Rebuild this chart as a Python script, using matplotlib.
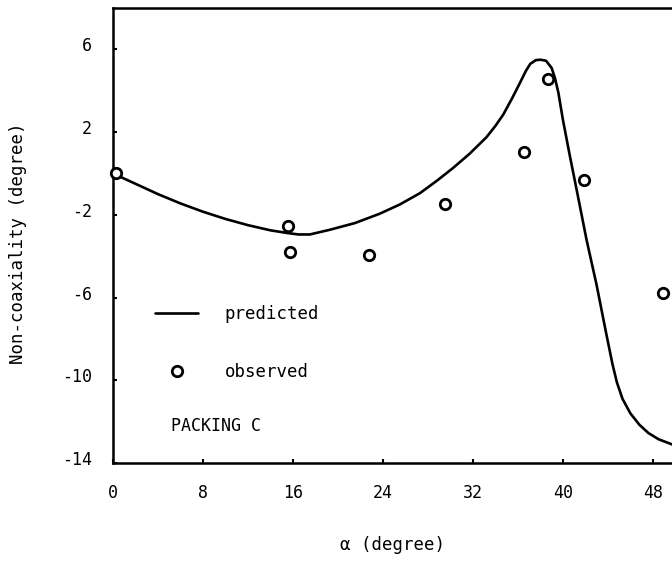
import matplotlib
matplotlib.use("Agg")
import matplotlib.pyplot as plt
import matplotlib.transforms as mtransforms
from matplotlib.legend_handler import HandlerLine2D

# predicted curve
pred_x = [0, 1, 2.4, 4, 6, 8, 10, 12, 14, 15.5, 16.5, 17.5, 19.3, 21.5, 23.7, 25.5,
          27.3, 28.8, 30.2, 31.7, 33.2, 34.0, 34.7, 35.5, 36.2, 36.7, 37.1, 37.6, 38.0,
          38.5, 39.0, 39.3, 39.6, 40.0, 40.6, 41.3, 42.1, 43.0, 43.8, 44.4, 44.8,
          45.3, 46.0, 46.8, 47.6, 48.5, 49.7]
pred_y = [0, -0.25, -0.6, -1.0, -1.45, -1.85, -2.2, -2.5, -2.75, -2.88, -2.95, -2.95,
          -2.72, -2.4, -1.95, -1.5, -0.95, -0.35, 0.25, 0.95, 1.75, 2.3, 2.85, 3.65,
          4.4, 4.95, 5.3, 5.48, 5.5, 5.45, 5.1, 4.6, 3.9, 2.6, 0.9, -1.0, -3.2, -5.4,
          -7.6, -9.2, -10.1, -10.9, -11.6, -12.15, -12.55, -12.85, -13.1]

# observed points
obs_x = [0.3, 15.6, 15.7, 22.8, 29.5, 36.5, 38.7, 41.9, 48.9]
obs_y = [0.0, -2.55, -3.8, -3.95, -1.5, 1.05, 4.55, -0.3, -5.8]

xticks = [0, 8, 16, 24, 32, 40, 48]
xticklabels = ["0", "8", "16", "24", "32", "40", "48"]
yticks = [6, 2, -2, -6, -10, -14]
yticklabels = ["6", "2", "-2", "-6", "-10", "-14"]

FONT = "DejaVu Sans Mono"
plt.rcParams["font.family"] = [FONT]


class LeftMarkerHandler(HandlerLine2D):
    def get_xdata(self, legend, xdescent, ydescent, width, height, fontsize):
        xd, xm = super().get_xdata(legend, xdescent, ydescent, width, height, fontsize)
        return xd, [0.35 * width - xdescent]


W, H = 672, 565
fig = plt.figure(figsize=(W / 100, H / 100), dpi=100)
left = 113 / W
bottom = 1 - 463 / H
top = 1 - 8 / H
ax = fig.add_axes([left, bottom, 1.0 - left, top - bottom])

line, = ax.plot(pred_x, pred_y, color="black", lw=1.9, solid_capstyle="round",
                solid_joinstyle="round", label="predicted")
pts, = ax.plot(obs_x, obs_y, linestyle="none", marker="o", ms=7.5, mew=2.0,
               mfc="white", mec="black", clip_on=False, label="observed", zorder=3)

ax.set_xlim(0, 49.7)
ax.set_ylim(-14, 8)

for s in ["left", "bottom", "top"]:
    ax.spines[s].set_linewidth(1.8)
ax.spines["right"].set_visible(False)

ax.set_xticks(xticks)
ax.set_xticklabels(xticklabels, fontsize=12)
ax.set_yticks(yticks)
ax.set_yticklabels(yticklabels, fontsize=12)
ax.tick_params(axis="both", direction="in", length=3, width=1.5)
ax.tick_params(axis="x", pad=15)
ax.tick_params(axis="y", pad=15)

offset = mtransforms.ScaledTranslation(0, 5 / 100, fig.dpi_scale_trans)
for lab in ax.get_yticklabels():
    lab.set_transform(lab.get_transform() + offset)

ax.set_xlabel("α (degree)", fontsize=12.5)
ax.xaxis.label.set_va("center")
ax.xaxis.set_label_coords(0.5, (463 - 545) / (463 - 8))
ax.set_ylabel("Non-coaxiality (degree)", fontsize=12.5)
ax.yaxis.label.set_va("center")
ax.yaxis.set_label_coords((18 - 113) / (W - 113), (463 - 243) / (463 - 8))

leg = ax.legend(handles=[line, pts], frameon=False, loc="upper left",
                bbox_to_anchor=(155 / W, 1 - 305 / H), bbox_transform=fig.transFigure,
                borderpad=0, borderaxespad=0, handlelength=2.5, handletextpad=1.5,
                labelspacing=2.3, fontsize=12.5, numpoints=1,
                handler_map={pts: LeftMarkerHandler()})

fig.text(171 / W, 1 - 426 / H, "PACKING C", fontsize=12, ha="left", va="center")

fig.savefig("out.png", dpi=100)
